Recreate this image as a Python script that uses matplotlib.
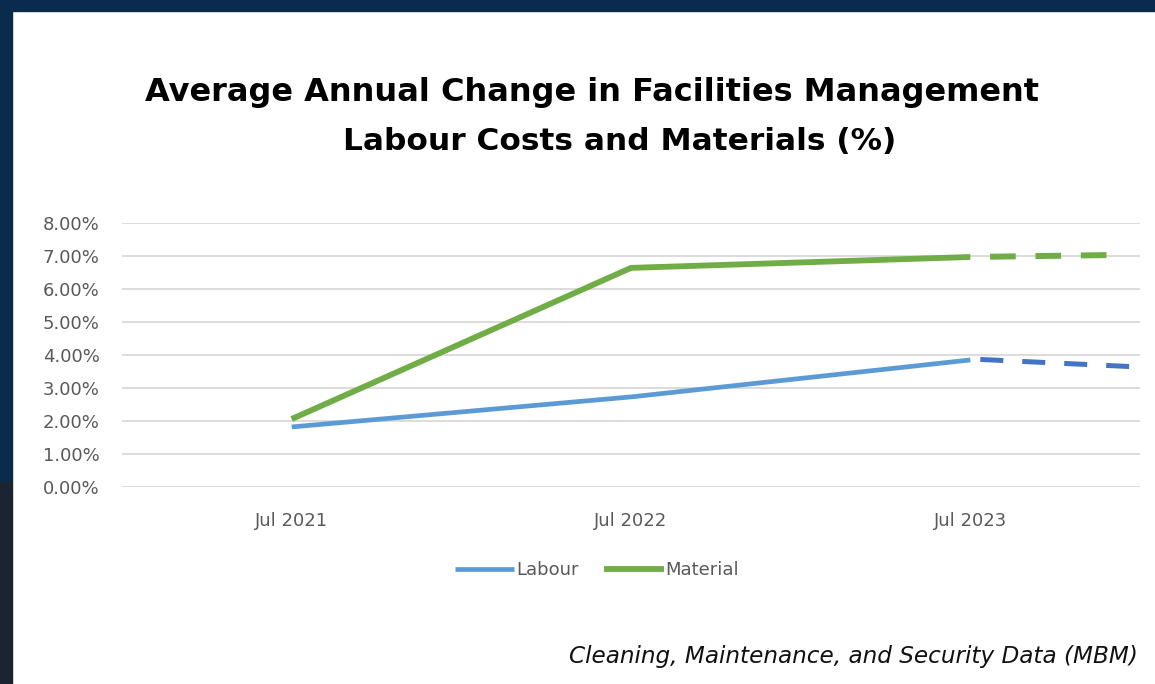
import matplotlib
matplotlib.use("Agg")
import matplotlib.pyplot as plt
import matplotlib.patches as mpatches

# data
categories = ["Jul 2021", "Jul 2022", "Jul 2023"]
labour = [1.82, 2.73, 3.85]
material = [2.06, 6.64, 6.97]
# dashed projection past the last category (fraction of a category step)
labour_step = 0.47
material_step = 0.42
labour_forecast = [3.88, 3.65]
material_forecast = [6.97, 7.03]
yticks = [0, 1, 2, 3, 4, 5, 6, 7, 8]

W, H = 1155, 684
fig = plt.figure(figsize=(W / 100, H / 100), dpi=100)
fig.patch.set_facecolor("white")

# dark frame along top and left edge
fig.patches.append(mpatches.Rectangle((0, 1 - 11 / H), 1, 11 / H, transform=fig.transFigure,
                                      color="#0a2b4c", zorder=0))
fig.patches.append(mpatches.Rectangle((0, 1 - 482 / H), 12 / W, 482 / H, transform=fig.transFigure,
                                      color="#0a2b4c", zorder=0))
fig.patches.append(mpatches.Rectangle((0, 0), 12 / W, 1 - 482 / H, transform=fig.transFigure,
                                      color="#1b2531", zorder=0))

# plot area in pixels: x 122..1140, y 223..487
ax = fig.add_axes([122 / W, 1 - 487 / H, (1140 - 122) / W, (487 - 223) / H])
ax.set_facecolor("none")
x = list(range(len(categories)))

for t in yticks:
    ax.axhline(t, color="#d9d9d9", lw=1.3, zorder=1)

ax.plot(x, labour, color="#5b9bd5", lw=3.4, solid_capstyle="butt", zorder=3, label="Labour")
ax.plot(x, material, color="#70ad47", lw=4.2, solid_capstyle="butt", zorder=3, label="Material")
# dashes are in linewidth units; offset puts a gap right after the last actual point
ax.plot([x[-1], x[-1] + labour_step], labour_forecast, color="#4472c4", lw=3.6,
        ls=(6.4, (4.6, 3.8)), zorder=3)
ax.plot([x[-1], x[-1] + material_step], material_forecast, color="#70ad47", lw=4.3,
        ls=(4.3, (4.3, 3.3)), zorder=3)

ax.set_xlim(-0.5, len(categories) - 0.5)
ax.set_ylim(0, 8)
ax.set_xticks(x)
ax.set_xticklabels(categories)
ax.set_yticks(yticks)
ax.set_yticklabels(["%.2f%%" % t for t in yticks])
for s in ax.spines.values():
    s.set_visible(False)
ax.tick_params(length=0, colors="#595959", labelsize=13)
ax.tick_params(axis="y", pad=16)
ax.tick_params(axis="x", pad=18)

leg = ax.legend(loc="center", bbox_to_anchor=(597 / W, 1 - 570 / H), bbox_transform=fig.transFigure,
                ncol=2, frameon=False, handlelength=3.3, handletextpad=0.1, columnspacing=1.4,
                prop={"size": 13})
for t in leg.get_texts():
    t.set_color("#595959")

fig.text(592 / W, 1 - 92 / H, "Average Annual Change in Facilities Management",
         ha="center", va="center", fontsize=23, fontweight="bold", family="DejaVu Sans")
fig.text(620 / W, 1 - 142 / H, "Labour Costs and Materials (%)",
         ha="center", va="center", fontsize=22.5, fontweight="bold", family="DejaVu Sans")
fig.text(1138 / W, 1 - 657 / H, "Cleaning, Maintenance, and Security Data (MBM)",
         ha="right", va="center", fontsize=16.7, style="italic", family="DejaVu Sans", color="#111111")

fig.savefig("out.png", dpi=100)
